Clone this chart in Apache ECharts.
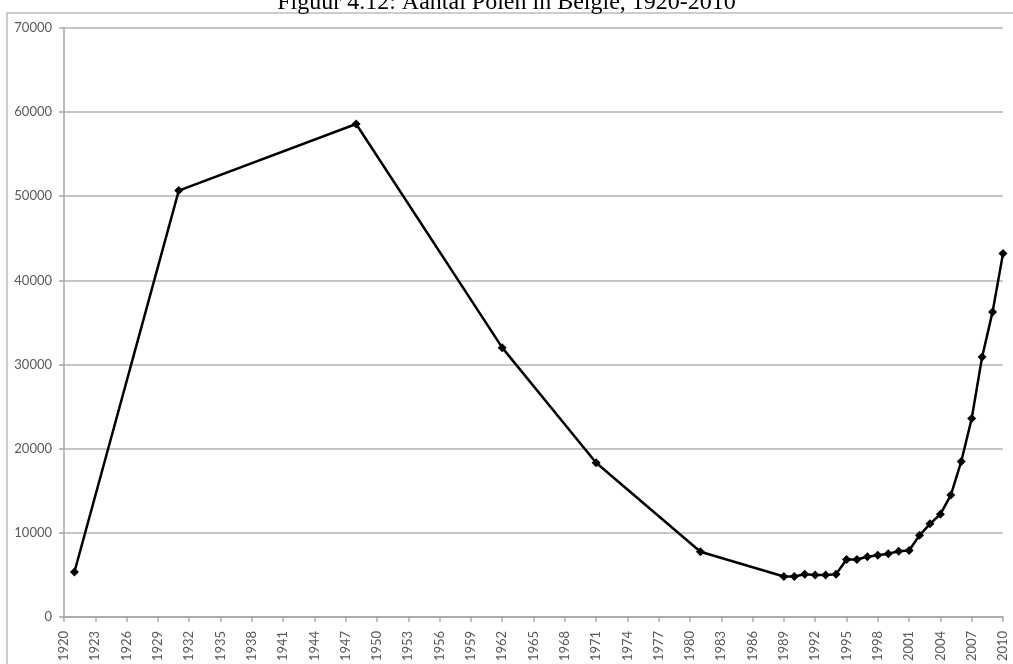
<!DOCTYPE html>
<html>
<head>
<meta charset="utf-8">
<script src="https://cdn.jsdelivr.net/npm/echarts@6/dist/echarts.min.js"></script>
<style>
html,body{margin:0;padding:0;background:#fff;}
#c{width:1013px;height:664px;}
</style>
</head>
<body>
<div id="c"></div>
<script>
const titleText = 'Figuur 4.12: Aantal Polen in België, 1920-2010';
const years = [1921, 1931, 1948, 1962, 1971, 1981,
  1989, 1990, 1991, 1992, 1993, 1994, 1995, 1996, 1997, 1998, 1999,
  2000, 2001, 2002, 2003, 2004, 2005, 2006, 2007, 2008, 2009, 2010];
const polen = [5330, 50670, 58590, 32000, 18320, 7730,
  4790, 4790, 5060, 4980, 4980, 5060, 6820, 6820, 7140, 7330, 7490,
  7800, 7880, 9690, 11060, 12200, 14470, 18470, 23570, 30900, 36250, 43180];
const xMin = 1920, xMax = 2010, xStep = 3;
const yMin = 0, yMax = 70000, yStep = 10000;

const chart = echarts.init(document.getElementById('c'), null, {renderer: 'canvas'});
chart.setOption({
  animation: false,
  backgroundColor: '#fff',
  title: {
    text: titleText,
    left: 'center',
    top: -14,
    textStyle: {fontFamily: 'Liberation Serif', fontSize: 24, fontWeight: 'normal', color: '#000'}
  },
  graphic: [{
    type: 'rect',
    shape: {x: 7, y: 13, width: 1020, height: 680},
    style: {fill: 'none', stroke: '#bdbdbd', lineWidth: 1.5},
    silent: true
  }],
  grid: {left: 64, right: 10, top: 28, bottom: 41, containLabel: false},
  xAxis: {
    type: 'value',
    min: xMin, max: xMax, interval: xStep,
    axisLine: {show: true, lineStyle: {color: '#a6a6a6', width: 1.5}},
    axisTick: {show: true, length: 5, lineStyle: {color: '#a6a6a6', width: 1.5}},
    splitLine: {show: false},
    axisLabel: {
      rotate: 90, margin: 14,
      fontFamily: 'Lato', fontSize: 13, color: '#595959',
      formatter: v => String(v)
    }
  },
  yAxis: {
    type: 'value',
    min: yMin, max: yMax, interval: yStep,
    axisLine: {show: true, lineStyle: {color: '#a6a6a6', width: 1.5}},
    axisTick: {show: true, length: 5, lineStyle: {color: '#a6a6a6', width: 1.5}},
    splitLine: {show: true, lineStyle: {color: '#b3b3b3', width: 1.5}},
    axisLabel: {margin: 12, fontFamily: 'Lato', fontSize: 13, color: '#595959',
      formatter: v => String(v)}
  },
  series: [{
    type: 'line',
    data: years.map((y, i) => [y, polen[i]]),
    symbol: 'diamond',
    symbolSize: 9,
    showSymbol: true,
    lineStyle: {color: '#000', width: 2.5},
    itemStyle: {color: '#000'}
  }]
});
</script>
</body>
</html>
